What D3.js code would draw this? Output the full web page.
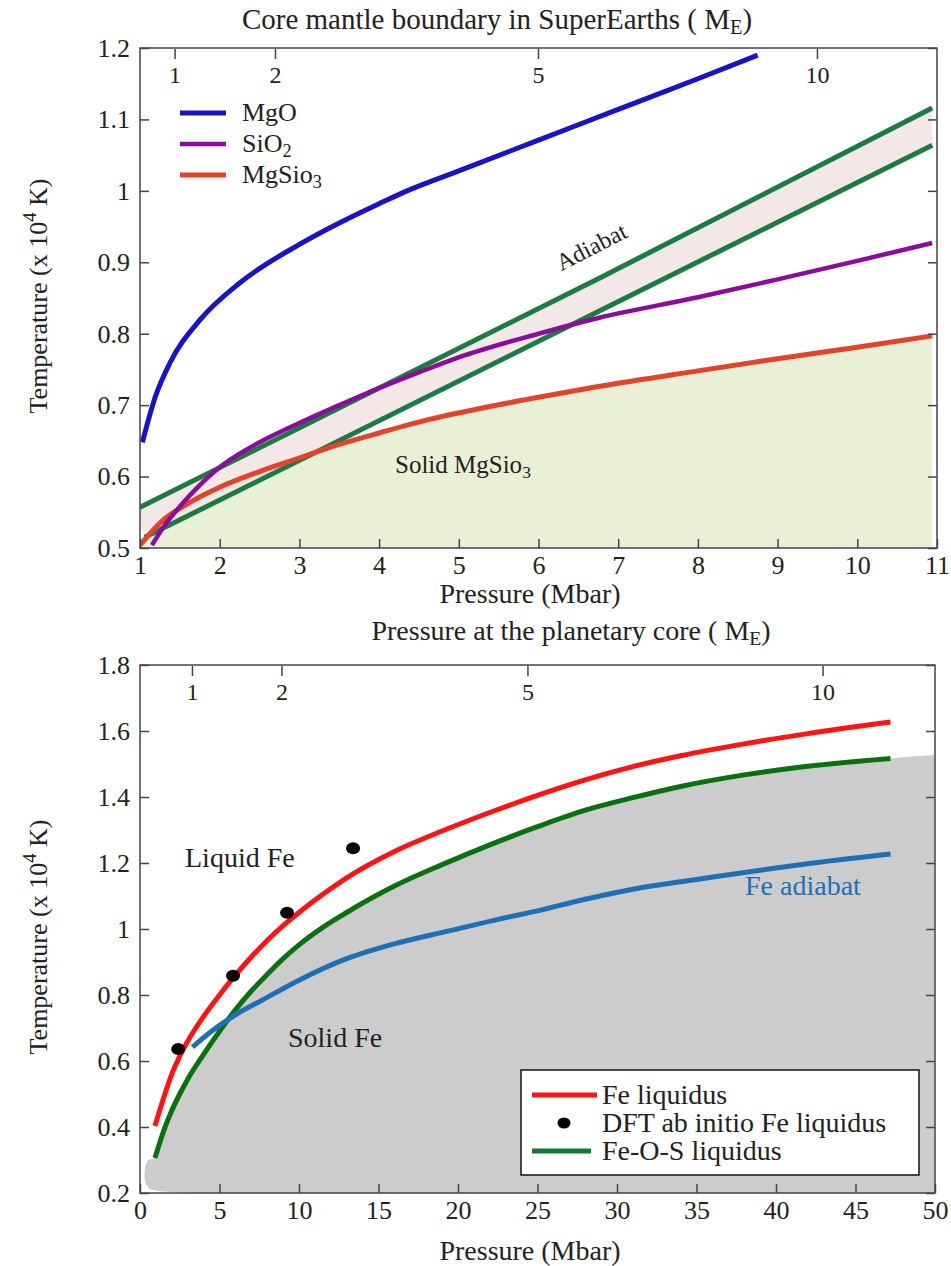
<!DOCTYPE html>
<html>
<head>
<meta charset="utf-8">
<script src="https://cdn.jsdelivr.net/npm/d3@7"></script>
<style>
  body { margin: 0; background: #fff; }
  text { font-family: "Liberation Serif", "Times New Roman", serif; fill: #222; }
</style>
</head>
<body>
<svg width="951" height="1266" font-family="Liberation Serif, serif"></svg>
<script>
// ---- top panel: core mantle boundary (P in Mbar, T in 10^4 K) ----
const mgoP = [1.03, 1.19, 1.375, 1.75, 2.25, 3, 3.5, 4, 4.35, 5, 6, 7, 8, 8.75];
const mgoT = [0.648, 0.711, 0.759, 0.819, 0.871, 0.925, 0.955, 0.982, 1.0, 1.028, 1.071, 1.114, 1.157, 1.19];

const sio2P = [1.15, 1.3, 1.5, 1.75, 2, 2.25, 2.5, 3, 3.5, 4, 4.5, 5, 6, 6.75, 8, 9, 10, 10.94];
const sio2T = [0.504, 0.53, 0.558, 0.588, 0.613, 0.632, 0.648, 0.675, 0.70, 0.724, 0.746, 0.767, 0.80, 0.822, 0.851, 0.876, 0.902, 0.927];

const mgsio3P = [1, 1.29, 1.6, 2, 2.5, 3, 3.5, 4, 4.63, 5.3, 6, 6.75, 8, 9, 10, 10.94];
const mgsio3T = [0.504, 0.539, 0.562, 0.585, 0.607, 0.626, 0.645, 0.661, 0.68, 0.696, 0.711, 0.726, 0.748, 0.765, 0.781, 0.797];

const adiabatHiP = [1, 6.75, 10.94];
const adiabatHiT = [0.557, 0.877, 1.116];
const adiabatLoP = [1.06, 6.75, 10.94];
const adiabatLoT = [0.515, 0.831, 1.064];

const topXTicks = [1, 2, 3, 4, 5, 6, 7, 8, 9, 10, 11];
const topYTicks = [0.5, 0.6, 0.7, 0.8, 0.9, 1.0, 1.1, 1.2];
const topMassTicks = [1, 2, 5, 10];
const topMassPressure = [1.44, 2.7, 6.0, 9.5];

const topSeries = ['MgO', 'SiO', 'MgSio'];
const topSubs = ['', '2', '3'];

// ---- bottom panel: planetary core ----
const feLiqP = [0.94, 1.5, 2, 2.5, 3, 4, 5, 6, 7, 8, 9, 10, 11.5, 13, 16, 19, 22, 25, 28, 31, 34, 38, 42, 47.2];
const feLiqT = [0.403, 0.49, 0.56, 0.615, 0.66, 0.735, 0.80, 0.86, 0.915, 0.965, 1.01, 1.05, 1.105, 1.155, 1.235, 1.297, 1.353, 1.405, 1.452, 1.492, 1.525, 1.561, 1.592, 1.627];

const feosP = [0.94, 1.5, 2, 2.5, 3, 4, 5, 6, 7, 8, 9, 10, 11.5, 13, 16, 19, 22, 25, 28, 31, 34, 38, 42, 47.2];
const feosT = [0.306, 0.39, 0.45, 0.50, 0.545, 0.62, 0.69, 0.755, 0.812, 0.862, 0.91, 0.952, 1.005, 1.05, 1.13, 1.195, 1.255, 1.31, 1.36, 1.398, 1.432, 1.467, 1.493, 1.517];

const feAdiP = [3.3, 4.5, 6, 7.7, 10, 13, 16, 19.5, 22.6, 25, 28, 31.5, 35, 40, 44, 47.2];
const feAdiT = [0.642, 0.69, 0.74, 0.785, 0.845, 0.91, 0.955, 0.995, 1.03, 1.055, 1.09, 1.125, 1.15, 1.185, 1.21, 1.227];

const dftP = [2.4, 5.85, 9.25, 13.4];
const dftT = [0.636, 0.858, 1.049, 1.245];

// closing outline of the "Solid Fe" region after the Fe-O-S liquidus
const solidEdgeP = [48.5, 50, 50, 3, 1.2, 0.6, 0.35, 0.28, 0.32, 0.5];
const solidEdgeT = [1.523, 1.527, 0.2, 0.2, 0.205, 0.212, 0.228, 0.25, 0.28, 0.30];

const botXTicks = [0, 5, 10, 15, 20, 25, 30, 35, 40, 45, 50];
const botYTicks = [0.2, 0.4, 0.6, 0.8, 1.0, 1.2, 1.4, 1.6, 1.8];
const botMassTicks = [1, 2, 5, 10];
const botMassPressure = [3.3, 8.93, 24.4, 42.96];

const botLegend = ['Fe liquidus', 'DFT ab initio Fe liquidus', 'Fe-O-S liquidus'];

const svg = d3.select('svg');

const xTop = d3.scaleLinear().domain([1, 11]).range([140, 937]);
const yTop = d3.scaleLinear().domain([0.5, 1.2]).range([548, 48]);
const xBot = d3.scaleLinear().domain([0, 50]).range([140, 935]);
const yBot = d3.scaleLinear().domain([0.2, 1.8]).range([1193, 665]);

const zip = (ps, ts) => ps.map((p, i) => [p, ts[i]]);
const fmt = d => String(+d.toFixed(1));

// text with an optional sub/superscript part
const richText = (g, parts) => {
  const t = g.append('text');
  parts.forEach(([s, kind]) => {
    const ts = t.append('tspan').text(s);
    if (kind === 'sub') ts.attr('dy', 5).style('font-size', '0.7em');
    if (kind === 'sup') ts.attr('dy', -11).style('font-size', '0.72em');
    if (kind === 'back') ts.attr('dy', -5);
    if (kind === 'down') ts.attr('dy', 11);
  });
  return t;
};

const drawAxes = (x, y, xTicks, yTicks, massTicks, massPressure) => {
  const [left, right] = x.range();
  const [bottom, top] = y.range();
  const tickStyle = g => {
    g.attr('font-family', null);
    g.select('.domain').remove();
    g.selectAll('.tick line').attr('stroke', '#444').attr('stroke-width', 1.5);
    g.selectAll('.tick text').style('font-size', '26px').attr('fill', '#222');
  };
  svg.append('g').attr('transform', `translate(0,${bottom})`)
     .call(d3.axisBottom(x).tickValues(xTicks).tickFormat(fmt).tickSizeInner(-9).tickSizeOuter(0).tickPadding(8))
     .call(tickStyle);
  svg.append('g').attr('transform', `translate(${left},0)`)
     .call(d3.axisLeft(y).tickValues(yTicks).tickFormat(fmt).tickSizeInner(-9).tickSizeOuter(0).tickPadding(10))
     .call(tickStyle);
  svg.append('g').attr('transform', `translate(${right},0)`)
     .call(d3.axisRight(y).tickValues(yTicks).tickFormat('').tickSizeInner(-9).tickSizeOuter(0))
     .call(tickStyle);

  // planet mass ticks along the top edge
  const mass = d3.scaleLinear().domain(massTicks).range(massPressure.map(x));
  const mt = svg.append('g').selectAll('g').data(massTicks).join('g')
     .attr('transform', d => `translate(${mass(d)},${top})`);
  mt.append('line').attr('y1', 1).attr('y2', 11).attr('stroke', '#444').attr('stroke-width', 1.5);
  mt.append('text').attr('y', 35).attr('text-anchor', 'middle').style('font-size', '24px').text(d => d);

  svg.append('rect')
     .attr('x', left).attr('y', top)
     .attr('width', right - left).attr('height', bottom - top)
     .attr('fill', 'none').attr('stroke', '#444').attr('stroke-width', 1.5);
};

const yLabel = (cx, cy) => {
  const g = svg.append('g').attr('transform', `translate(${cx},${cy}) rotate(-90)`);
  richText(g, [['Temperature (x 10'], ['4', 'sup'], [' K)', 'down']])
    .attr('text-anchor', 'middle').style('font-size', '26px');
};

// ================= top panel =================
svg.append('clipPath').attr('id', 'clip-top').append('rect')
  .attr('x', 140).attr('y', 48).attr('width', 797).attr('height', 500);
const plotTop = svg.append('g').attr('clip-path', 'url(#clip-top)');

// solid MgSiO3 area
const solidArea = d3.area().x(d => xTop(d[0])).y0(yTop(0.5)).y1(d => yTop(d[1])).curve(d3.curveMonotoneX);
plotTop.append('path').datum(zip(mgsio3P, mgsio3T))
  .attr('d', solidArea).attr('fill', '#eaf0d6');

// adiabat band
const straightTop = d3.line().x(d => xTop(d[0])).y(d => yTop(d[1]));
const band = zip(adiabatHiP, adiabatHiT)
  .concat(zip(adiabatLoP, adiabatLoT).reverse())
  .concat([[1.0, 0.535]]);
plotTop.append('path').datum(band).attr('d', straightTop).attr('fill', '#f3e8e6');

[[adiabatHiP, adiabatHiT], [adiabatLoP, adiabatLoT]].forEach(([p, t]) => {
  plotTop.append('path').datum(zip(p, t)).attr('d', straightTop)
    .attr('fill', 'none').attr('stroke', '#1d7a44').attr('stroke-width', 5);
});

const smoothTop = d3.line().x(d => xTop(d[0])).y(d => yTop(d[1])).curve(d3.curveMonotoneX);
const topColors = ['#1a12c4', '#8b0b9c', '#e2432a'];
const topWidths = [5, 4.5, 5];
plotTop.append('path').datum(zip(mgsio3P, mgsio3T)).attr('d', smoothTop)
  .attr('fill', 'none').attr('stroke', topColors[2]).attr('stroke-width', topWidths[2]);
plotTop.append('path').datum(zip(sio2P, sio2T)).attr('d', smoothTop)
  .attr('fill', 'none').attr('stroke', topColors[1]).attr('stroke-width', topWidths[1]);
plotTop.append('path').datum(zip(mgoP, mgoT)).attr('d', smoothTop)
  .attr('fill', 'none').attr('stroke', topColors[0]).attr('stroke-width', topWidths[0]);

drawAxes(xTop, yTop, topXTicks, topYTicks, topMassTicks, topMassPressure);

// legend
const legTop = svg.append('g').selectAll('g').data(topSeries).join('g')
  .attr('transform', (d, i) => `translate(180,${113 + i * 31})`);
legTop.append('line').attr('x1', 0).attr('x2', 46)
  .attr('stroke', (d, i) => topColors[i]).attr('stroke-width', (d, i) => topWidths[i]);
legTop.each(function (d, i) {
  const parts = [[d]];
  if (topSubs[i]) parts.push([topSubs[i], 'sub']);
  richText(d3.select(this), parts).attr('x', 62).attr('y', 8).style('font-size', '26px');
});

// annotations
svg.append('text').attr('transform', 'translate(595,254) rotate(-27)')
  .attr('text-anchor', 'middle').style('font-size', '24px').text('Adiabat');
richText(svg, [['Solid MgSio'], ['3', 'sub']]).attr('x', 395).attr('y', 473).style('font-size', '25px');

richText(svg, [['Core mantle boundary in SuperEarths ( M'], ['E', 'sub'], [')', 'back']])
  .attr('x', 497).attr('y', 29).attr('text-anchor', 'middle').style('font-size', '29px');
svg.append('text').attr('x', 530).attr('y', 603).attr('text-anchor', 'middle')
  .style('font-size', '28px').text('Pressure (Mbar)');
richText(svg, [['Pressure at the planetary core ( M'], ['E', 'sub'], [')', 'back']])
  .attr('x', 571).attr('y', 640).attr('text-anchor', 'middle').style('font-size', '28px');
yLabel(47, 296);

// ================= bottom panel =================
svg.append('clipPath').attr('id', 'clip-bot').append('rect')
  .attr('x', 140).attr('y', 665).attr('width', 795).attr('height', 528);
const plotBot = svg.append('g').attr('clip-path', 'url(#clip-bot)');

const straightBot = d3.line().x(d => xBot(d[0])).y(d => yBot(d[1]));
const smoothBot = d3.line().x(d => xBot(d[0])).y(d => yBot(d[1])).curve(d3.curveMonotoneX);

// "Solid Fe" region bounded by the Fe-O-S liquidus
const solidOutline = zip(feosP, feosT).concat(zip(solidEdgeP, solidEdgeT));
plotBot.append('path').datum(solidOutline)
  .attr('d', straightBot.curve(d3.curveLinearClosed)).attr('fill', '#cccccc');

plotBot.append('path').datum(zip(feLiqP, feLiqT)).attr('d', smoothBot)
  .attr('fill', 'none').attr('stroke', '#ff1414').attr('stroke-width', 5);
plotBot.append('path').datum(zip(feosP, feosT)).attr('d', smoothBot)
  .attr('fill', 'none').attr('stroke', '#0b700f').attr('stroke-width', 5);
plotBot.append('path').datum(zip(feAdiP, feAdiT)).attr('d', smoothBot)
  .attr('fill', 'none').attr('stroke', '#1f6fb4').attr('stroke-width', 5);

plotBot.append('g').selectAll('ellipse').data(zip(dftP, dftT)).join('ellipse')
  .attr('cx', d => xBot(d[0])).attr('cy', d => yBot(d[1]))
  .attr('rx', 7).attr('ry', 6).attr('fill', '#000');

drawAxes(xBot, yBot, botXTicks, botYTicks, botMassTicks, botMassPressure);

// legend
const legBot = svg.append('g').attr('transform', 'translate(521,1070)');
legBot.append('rect').attr('width', 398).attr('height', 105)
  .attr('fill', '#fff').attr('stroke', '#111').attr('stroke-width', 1.5);
const legRows = legBot.selectAll('g').data(botLegend).join('g')
  .attr('transform', (d, i) => `translate(0,${25 + i * 28})`);
legRows.filter((d, i) => i !== 1).append('line')
  .attr('x1', 11).attr('x2', (d, i) => i === 0 ? 76 : 70)
  .attr('stroke', (d, i) => i === 0 ? '#ff1414' : '#117a3a').attr('stroke-width', 5);
legRows.filter((d, i) => i === 1).append('ellipse')
  .attr('cx', 43).attr('cy', 0).attr('rx', 6.5).attr('ry', 5.5).attr('fill', '#000');
legRows.append('text').attr('x', 81).attr('y', 9).style('font-size', '28px').text(d => d);

svg.append('text').attr('x', 185).attr('y', 867).style('font-size', '28px').text('Liquid Fe');
svg.append('text').attr('x', 288).attr('y', 1047).style('font-size', '28px').text('Solid Fe');
svg.append('text').attr('x', 745).attr('y', 895).style('font-size', '28px')
  .style('fill', '#1f6fb4').text('Fe adiabat');

svg.append('text').attr('x', 530).attr('y', 1260).attr('text-anchor', 'middle')
  .style('font-size', '28px').text('Pressure (Mbar)');
yLabel(47, 937);
</script>
</body>
</html>
